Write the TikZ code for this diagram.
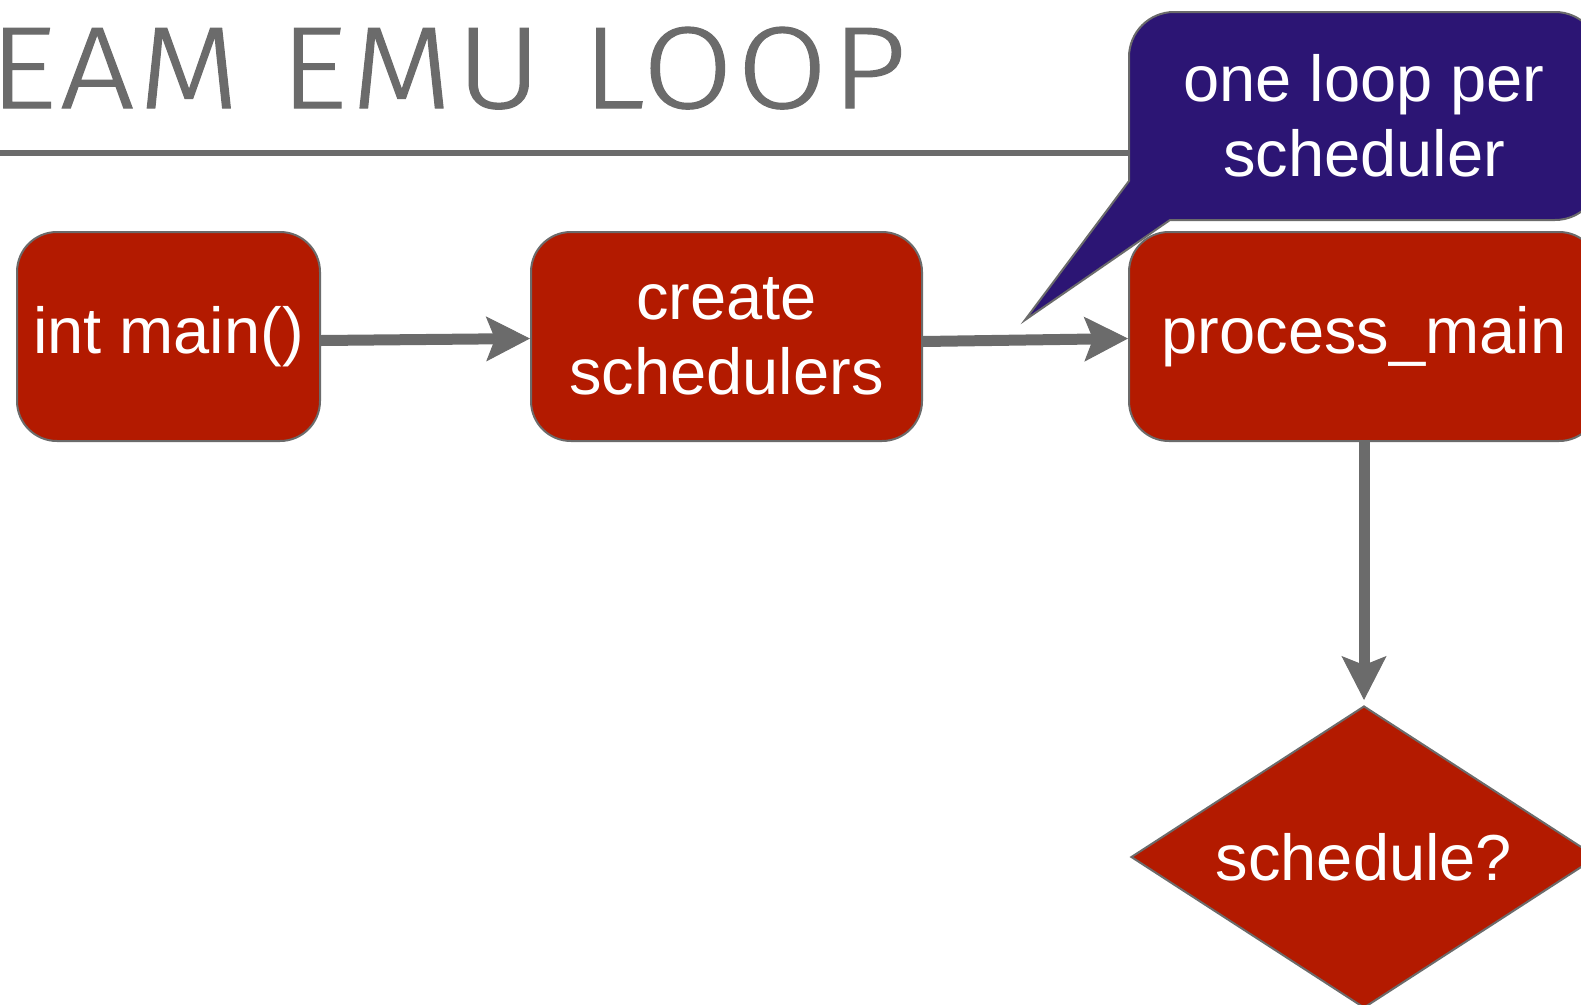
\documentclass[tikz,border=0pt]{standalone}
\usepackage{graphicx}
\usepackage{fontspec}
\setmainfont{Liberation Sans}
\newfontfamily\ttlfont{Fira Sans Light}[LetterSpace=3, FakeBold=1]
\usetikzlibrary{arrows.meta,shapes.geometric}

\definecolor{boxred}{HTML}{B31A00}
\definecolor{notepurple}{HTML}{2C1574}
\definecolor{linegray}{HTML}{6B6B6B}

\tikzset{
  stepbox/.style={draw=linegray, line width=2pt, fill=boxred, rounded corners=40pt,
    text=white, font=\fontsize{65}{75}\selectfont, align=center,
    inner sep=0pt, minimum height=209pt},
  decision/.style={draw=linegray, line width=2pt, fill=boxred, diamond, aspect=1.55,
    text=white, font=\fontsize{65}{75}\selectfont, inner sep=0pt,
    minimum width=466pt, minimum height=302pt},
  notetext/.style={text=white, font=\fontsize{65}{75}\selectfont, align=center, inner sep=0pt},
  flow/.style={draw=linegray, line width=11pt,
    -{Stealth[length=44pt, width=45pt, inset=9pt, line width=1pt]}},
}

\begin{document}
\begin{tikzpicture}[x=1pt, y=-1pt]
  \useasboundingbox (0,0) rectangle (1581,1004);

  % heading and rule
  \node[anchor=base west, inner sep=0pt, text=linegray] (title) at (-11,108)
    {\resizebox{917pt}{81pt}{\ttlfont EAM EMU LOOP}};
  \draw[linegray, line width=5.5pt] (0,153) -- (1140,153);

  % flow boxes
  \node[stepbox, minimum width=303pt] (main)  at (168.5,336.5) {int main()};
  \node[stepbox, minimum width=391pt] (create) at (726.5,336.5) {create\\schedulers};
  \node[stepbox, minimum width=470pt] (proc) at (1364,336.5) {process\_main};
  \node[decision] (sched) at (1364,857) {schedule?};

  % speech bubble
  \draw[linegray, line width=2pt, fill=notepurple, rounded corners=45pt]
    (1360,12) -- (1600,12) -- (1600,220) [sharp corners] -- (1170,220)
    -- (1025,320) -- (1129,181) [rounded corners=45pt] -- (1129,12) -- cycle;
  \node[notetext] (note) at (1364,116) {one loop per\\scheduler};

  % connectors
  \draw[flow] ([yshift=-4pt]main.east) -- ([yshift=-2pt]create.west);
  \draw[flow] ([yshift=-5pt]create.east) -- ([yshift=-2pt]proc.west);
  \draw[flow] (proc.south) -- ([yshift=5pt]sched.north);
\end{tikzpicture}
\end{document}
